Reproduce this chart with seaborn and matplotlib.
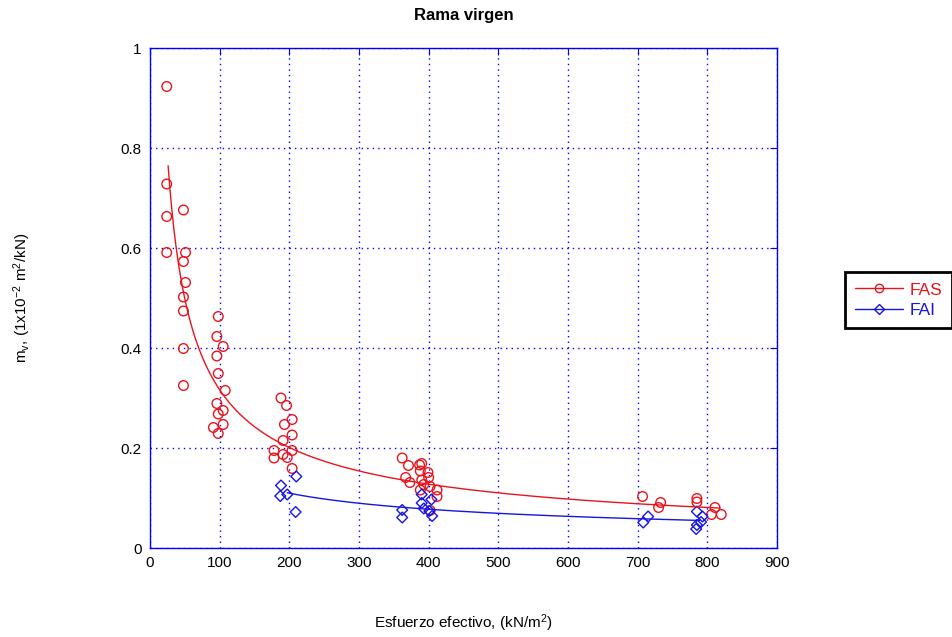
import numpy as np
import pandas as pd
import matplotlib
matplotlib.use("Agg")
import matplotlib.pyplot as plt
from matplotlib.lines import Line2D
import seaborn as sns

sns.set_style("white")
plt.rcParams['font.family'] = ['Liberation Sans', 'DejaVu Sans']
plt.rcParams['mathtext.fontset'] = 'custom'
plt.rcParams['mathtext.rm'] = 'Liberation Sans'
plt.rcParams['mathtext.it'] = 'Liberation Sans'
plt.rcParams['text.color'] = 'black'
plt.rcParams['axes.labelcolor'] = 'black'

# FAS data
fas_x = [24, 24, 24, 24, 48, 51, 48, 51, 48, 48, 48, 48,
         98, 96, 105, 96, 98, 108, 96, 105, 98, 105, 91, 98,
         188, 196, 204, 193, 204, 191, 178, 204, 191, 178, 197, 204,
         362, 371, 387, 390, 388, 399, 400, 367, 373, 390, 393, 402, 388, 412, 412, 402,
         707, 733, 730, 785, 785, 811, 806, 820]
fas_y = [0.923, 0.728, 0.663, 0.591, 0.676, 0.591, 0.573, 0.531, 0.502, 0.474, 0.399, 0.325,
         0.463, 0.423, 0.403, 0.384, 0.349, 0.315, 0.289, 0.275, 0.268, 0.247, 0.241, 0.229,
         0.300, 0.285, 0.257, 0.247, 0.226, 0.215, 0.195, 0.195, 0.187, 0.180, 0.181, 0.159,
         0.180, 0.165, 0.166, 0.169, 0.154, 0.151, 0.141, 0.141, 0.131, 0.136, 0.127, 0.123, 0.116, 0.116, 0.103, 0.075,
         0.103, 0.091, 0.081, 0.099, 0.092, 0.081, 0.067, 0.067]

# FAI data
fai_x = [210, 188, 187, 197, 209,
         390, 390, 404, 393, 401, 405, 362, 362,
         715, 708, 785, 793, 791, 785, 784]
fai_y = [0.143, 0.125, 0.104, 0.107, 0.072,
         0.107, 0.090, 0.097, 0.079, 0.074, 0.064, 0.076, 0.061,
         0.063, 0.051, 0.073, 0.063, 0.052, 0.046, 0.038]

# power-law fit parameters  y = a * x^b
fas_fit = dict(a=6.46, b=-0.655, xmin=26, xmax=818)
fai_fit = dict(a=1.55, b=-0.5, xmin=197, xmax=789)

fig = plt.figure(figsize=(9.52, 6.37), dpi=100)
ax = fig.add_axes([150/952, 89/637, 627/952, 500/637])

red = '#e8141c'
blue = '#1414e6'

for fit, col in [(fas_fit, red), (fai_fit, blue)]:
    xs = np.linspace(fit['xmin'], fit['xmax'], 300)
    df = pd.DataFrame({'x': xs, 'y': fit['a'] * xs ** fit['b']})
    sns.lineplot(data=df, x='x', y='y', ax=ax, color=col, lw=1.0, legend=False)

sns.scatterplot(x=fas_x, y=fas_y, ax=ax, marker='o', s=48, facecolors='none',
                edgecolor=red, linewidth=1.0, legend=False)
sns.scatterplot(x=fai_x, y=fai_y, ax=ax, marker='D', s=30, facecolors='none',
                edgecolor=blue, linewidth=1.0, legend=False)

ax.set_xlim(0, 900)
ax.set_ylim(0, 1)
ax.set_xticks(np.arange(0, 901, 100))
ax.set_yticks([0, 0.2, 0.4, 0.6, 0.8, 1])
ax.set_yticklabels(['0', '0.2', '0.4', '0.6', '0.8', '1'])
ax.grid(True, color='#0000ff', linestyle=(0, (1, 3)), linewidth=1.0)
for sp in ax.spines.values():
    sp.set_color('#0000ff')
    sp.set_linewidth(1.0)
ax.tick_params(direction='in', colors='#0000ff', labelcolor='black', labelsize=11,
               top=True, right=True, length=5, pad=6)

ax.set_title('Rama virgen', fontsize=12, fontweight='bold', pad=20)
ax.set_xlabel('Esfuerzo efectivo, (kN/m$^2$)', fontsize=11, labelpad=30)
ax.set_ylabel('m$_v$, (1x10$^{-2}$ m$^2$/kN)', fontsize=11, labelpad=63)

handles = [Line2D([0], [0], color=red, marker='o', markerfacecolor='none', markersize=6, lw=1),
           Line2D([0], [0], color=blue, marker='D', markerfacecolor='none', markersize=5, lw=1)]
leg = fig.legend(handles, ['FAS', 'FAI'], loc='upper left',
                 bbox_to_anchor=(845/952, 1 - 272/637),
                 frameon=True, fancybox=False, edgecolor='black', framealpha=1,
                 fontsize=12.5, handlelength=2.75, borderpad=0.6, labelspacing=0.3,
                 handletextpad=0.35, borderaxespad=0)
leg.get_frame().set_linewidth(2)
for t, c in zip(leg.get_texts(), [red, blue]):
    t.set_color(c)

fig.savefig('out.png', dpi=100)
